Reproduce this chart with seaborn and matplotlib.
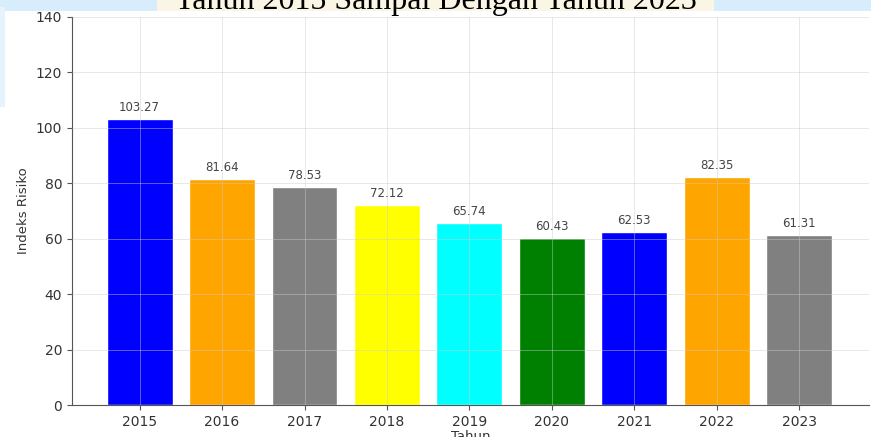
import matplotlib
matplotlib.use("Agg")
import matplotlib.pyplot as plt
import seaborn as sns
import pandas as pd
from matplotlib.patches import Rectangle

years = ["2015", "2016", "2017", "2018", "2019", "2020", "2021", "2022", "2023"]
risk_index = [103.27, 81.64, 78.53, 72.12, 65.74, 60.43, 62.53, 82.35, 61.31]
bar_colors = ["#0000ff", "#ffa500", "#808080", "#ffff00", "#00ffff",
              "#008000", "#0000ff", "#ffa500", "#808080"]
title_text = "Tahun 2015 Sampai Dengan Tahun 2023"

df = pd.DataFrame({"Tahun": years, "Indeks Risiko": risk_index})

sns.set_style("ticks")
fig = plt.figure(figsize=(8.71, 4.37), dpi=100)
fig.patch.set_facecolor("white")

# light document background strip behind the (cropped) title
fig.patches.append(Rectangle((0, 0.975), 1, 0.03, transform=fig.transFigure,
                             facecolor="#d8edfb", edgecolor="none", zorder=0))
fig.patches.append(Rectangle((0.18, 0.975), 0.64, 0.03, transform=fig.transFigure,
                             facecolor="#fbf5e6", edgecolor="none", zorder=0))
fig.patches.append(Rectangle((0, 0.755), 0.006, 0.23, transform=fig.transFigure,
                             facecolor="#e6f3fc", edgecolor="none", zorder=0))

ax = fig.add_axes([0.0827, 0.0732, 0.9153, 0.888])
sns.barplot(data=df, x="Tahun", y="Indeks Risiko", hue="Tahun",
            palette=bar_colors, legend=False, width=0.8, saturation=1, ax=ax)

for i, v in enumerate(risk_index):
    ax.text(i, v + 1.8, f"{v:.2f}", ha="center", va="bottom",
            fontsize=8.5, color="#444444")

ax.set_xlim(-0.82, 8.85)
ax.set_ylim(0, 140)
ax.set_yticks(range(0, 141, 20))
ax.grid(True, color="#cccccc", linewidth=0.7, alpha=0.45)
ax.set_axisbelow(False)
ax.spines["top"].set_visible(False)
ax.spines["right"].set_visible(False)
for s in ("left", "bottom"):
    ax.spines[s].set_color("#555555")
ax.tick_params(axis="both", colors="#555555", labelcolor="#333333", labelsize=10)
ax.set_xlabel("Tahun", fontsize=9.5, color="#333333", labelpad=1)
ax.set_ylabel("Indeks Risiko", fontsize=9.5, color="#333333")

fig.text(0.5, 0.979, title_text, ha="center", va="baseline",
         fontsize=23, family="Liberation Serif", color="black")

fig.savefig("out.png", dpi=100)
